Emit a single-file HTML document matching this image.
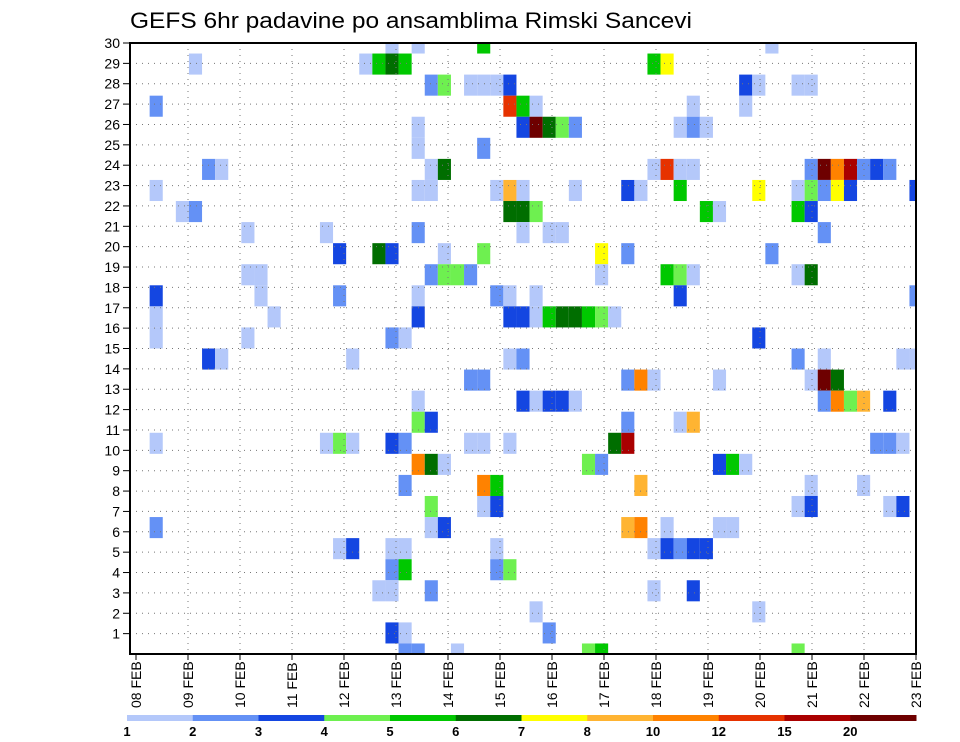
<!DOCTYPE html>
<html><head><meta charset="utf-8"><style>
body{margin:0;background:#fff;width:960px;height:742px;overflow:hidden}
svg{display:block;font-family:"Liberation Sans",sans-serif}
</style></head><body>
<svg id="chart" width="960" height="742" viewBox="0 0 960 742" xmlns="http://www.w3.org/2000/svg">
<defs><clipPath id="plotclip"><rect x="130" y="43" width="786" height="611"/></clipPath></defs>
<text x="130" y="28" font-size="22" textLength="562" lengthAdjust="spacingAndGlyphs" fill="#000">GEFS 6hr padavine po ansamblima Rimski Sancevi</text>
<g id="cells" clip-path="url(#plotclip)"></g>
<g id="grid"></g>
<rect x="130" y="43" width="786" height="611" fill="none" stroke="#000" stroke-width="2"/>
<g id="yaxis"></g>
<g id="xaxis"></g>
<g id="legend"></g>
</svg>
<script>
// levels: L=1.5 M=2.5 D=3.5 LG=4.5 G=5.5 DG=6.5 Y=7.5 LO=9 O=11 R=13 DR=17 X=22
const cellMember = [
30,30,30,30,
29,29,29,29,29,29,29,
28,28,28,28,28,28,28,28,28,28,
27,27,27,27,27,27,
26,26,26,26,26,26,26,26,26,
25,25,
24,24,24,24,24,24,24,24,24,24,24,24,24,24,24,
23,23,23,23,23,23,23,23,23,23,23,23,23,23,23,23,23,
22,22,22,22,22,22,22,22,22,
21,21,21,21,21,21,21,
20,20,20,20,20,20,20,20,
19,19,19,19,19,19,19,19,19,19,19,19,
18,18,18,18,18,18,18,18,18,
17,17,17,17,17,17,17,17,17,17,17,17,
16,16,16,16,16,
15,15,15,15,15,15,15,15,15,
14,14,14,14,14,14,14,14,14,
13,13,13,13,13,13,13,13,13,13,13,
12,12,12,12,12,
11,11,11,11,11,11,11,11,11,11,11,11,11,11,
10,10,10,10,10,10,10,10,
9,9,9,9,9,9,
8,8,8,8,8,8,8,
7,7,7,7,7,7,7,7,
6,6,6,6,6,6,6,6,6,6,
5,5,5,5,
4,4,4,4,4,
3,3,
2,2,2,
1,1,1,1,1,1];
const cellTime = [
20,22,27,49,
5,18,19,20,21,40,41,
23,24,26,27,28,29,47,48,51,52,
2,29,30,31,43,47,
22,30,31,32,33,34,42,43,44,
22,27,
6,7,23,24,40,41,42,43,52,53,54,55,56,57,58,
2,22,23,28,29,30,34,38,39,42,48,51,52,53,54,55,60,
4,5,29,30,31,44,45,51,52,
9,15,22,30,32,33,53,
16,19,20,24,27,36,38,49,
9,10,23,24,25,26,36,41,42,43,51,52,
2,10,16,22,28,29,31,42,60,
2,11,22,29,30,31,32,33,34,35,36,37,
2,9,20,21,48,
6,7,17,29,30,51,53,59,60,
26,27,38,39,40,45,52,53,54,
22,30,31,32,33,34,53,54,55,56,58,
22,23,38,42,43,
2,15,16,17,20,21,26,27,29,37,38,57,58,59,
22,23,24,35,36,45,46,47,
21,27,28,39,52,56,
23,27,28,51,52,58,59,
2,23,24,38,39,41,45,46,
16,17,20,21,28,40,41,42,43,44,
20,21,28,29,
19,20,23,40,43,
31,48,
20,21,32,
21,22,25,35,36,51];
const cellValue = [
1.5,1.5,5.5,1.5,
1.5,1.5,5.5,6.5,5.5,5.5,7.5,
2.5,4.5,1.5,1.5,1.5,3.5,3.5,1.5,1.5,1.5,
2.5,13,5.5,1.5,1.5,1.5,
1.5,3.5,22,6.5,4.5,2.5,1.5,2.5,1.5,
1.5,2.5,
2.5,1.5,1.5,6.5,1.5,13,1.5,1.5,2.5,22,11,17,2.5,3.5,2.5,
1.5,1.5,1.5,1.5,9,1.5,1.5,3.5,1.5,5.5,7.5,1.5,4.5,2.5,7.5,3.5,3.5,
1.5,2.5,6.5,6.5,4.5,5.5,1.5,5.5,3.5,
1.5,1.5,2.5,1.5,1.5,1.5,2.5,
3.5,6.5,3.5,1.5,4.5,7.5,2.5,2.5,
1.5,1.5,2.5,4.5,4.5,2.5,1.5,5.5,4.5,1.5,1.5,6.5,
3.5,1.5,2.5,1.5,2.5,1.5,1.5,3.5,2.5,
1.5,1.5,3.5,3.5,3.5,1.5,5.5,6.5,6.5,5.5,4.5,1.5,
1.5,1.5,2.5,1.5,3.5,
3.5,1.5,1.5,1.5,2.5,2.5,1.5,1.5,1.5,
2.5,2.5,2.5,11,1.5,1.5,1.5,22,6.5,
1.5,3.5,1.5,3.5,3.5,1.5,2.5,11,4.5,9,3.5,
4.5,3.5,2.5,1.5,9,
1.5,1.5,4.5,1.5,3.5,2.5,1.5,1.5,1.5,6.5,17,2.5,2.5,1.5,
11,6.5,1.5,4.5,2.5,3.5,5.5,1.5,
2.5,11,5.5,9,1.5,1.5,
4.5,1.5,3.5,1.5,3.5,1.5,3.5,
2.5,1.5,3.5,9,11,1.5,1.5,1.5,
1.5,3.5,1.5,1.5,1.5,1.5,3.5,2.5,3.5,3.5,
2.5,5.5,2.5,4.5,
1.5,1.5,2.5,1.5,3.5,
1.5,1.5,
3.5,1.5,2.5,
2.5,2.5,1.5,4.5,5.5,4.5];
const levelBounds = [1,2,3,4,5,6,7,8,10,12,15,20];
const levelColors = ["#b4c8fa","#6491f5","#1446e1","#6ef050","#00c800","#006e00","#ffff00","#ffb432","#ff8200","#e63200","#aa0000","#6e0000"];
const dayLabels = ["08","09","10","11","12","13","14","15","16","17","18","19","20","21","22","23"];
const memberLabels = [1,2,3,4,5,6,7,8,9,10,11,12,13,14,15,16,17,18,19,20,21,22,23,24,25,26,27,28,29,30];

const NS="http://www.w3.org/2000/svg";
const PX0=130, PX1=916, PY0=43, PY1=654;
const NT=60, cw=(PX1-PX0)/NT, ch=(PY1-PY0)/29;
const xCell=t=>PX0+t*cw;
const yCell=m=>PY1-(m-1)*ch;
const xDay=d=>136+d*(PX1-136)/15;
const yLab=r=>PY1-r*(PY1-PY0)/30;
function colorFor(v){let i=0;for(let k=0;k<levelBounds.length;k++)if(v>=levelBounds[k])i=k;return levelColors[i];}
function mk(tag,attrs,parent){const e=document.createElementNS(NS,tag);for(const k in attrs)e.setAttribute(k,attrs[k]);parent.appendChild(e);return e;}

const gc=document.getElementById('cells');
for(let i=0;i<cellValue.length;i++){
  const r=mk('rect',{x:(xCell(cellTime[i])-cw/2).toFixed(2),y:(yCell(cellMember[i])-ch/2).toFixed(2),width:cw.toFixed(2),height:ch.toFixed(2),fill:colorFor(cellValue[i])},gc);
  
  
}
const gg=document.getElementById('grid');
for(let r=1;r<30;r++){
  const l=mk('line',{x1:PX0,x2:PX1,y1:yLab(r),y2:yLab(r),stroke:"#777","stroke-width":1,"stroke-dasharray":"1,5"},gg);
  
  
}
for(let d=1;d<15;d++){
  const l=mk('line',{x1:xDay(d),x2:xDay(d),y1:PY0,y2:PY1,stroke:"#777","stroke-width":1,"stroke-dasharray":"1,5"},gg);
  
  
}
const gy=document.getElementById('yaxis');
memberLabels.forEach(r=>{
  mk('line',{x1:123,x2:PX0,y1:yLab(r),y2:yLab(r),stroke:"#000","stroke-width":1},gy);
  const t=mk('text',{x:120,y:yLab(r)+5,"font-size":14,"text-anchor":"end",fill:"#000"},gy);
  t.textContent=r;
  
  
});
const gx=document.getElementById('xaxis');
dayLabels.forEach((lab,d)=>{
  const x=xDay(d);
  mk('line',{x1:x,x2:x,y1:PY1,y2:PY1+6,stroke:"#000","stroke-width":1},gx);
  const t=mk('text',{x:0,y:0,"font-size":14,transform:`translate(${x+5},708) rotate(-90)`,fill:"#000"},gx);
  t.textContent=lab+" FEB";
  
  
});
const gl=document.getElementById('legend');
const lw=(916-127)/levelColors.length;
levelColors.forEach((c,i)=>{
  const r=mk('rect',{x:127+i*lw,y:715,width:lw+0.5,height:6,fill:c},gl);
  
  
});
levelBounds.forEach((b,i)=>{
  const t=mk('text',{x:127+i*lw,y:736,"font-size":13,"font-weight":"bold","text-anchor":"middle",fill:"#000"},gl);
  t.textContent=b;
  
  
});
</script>
</body></html>
